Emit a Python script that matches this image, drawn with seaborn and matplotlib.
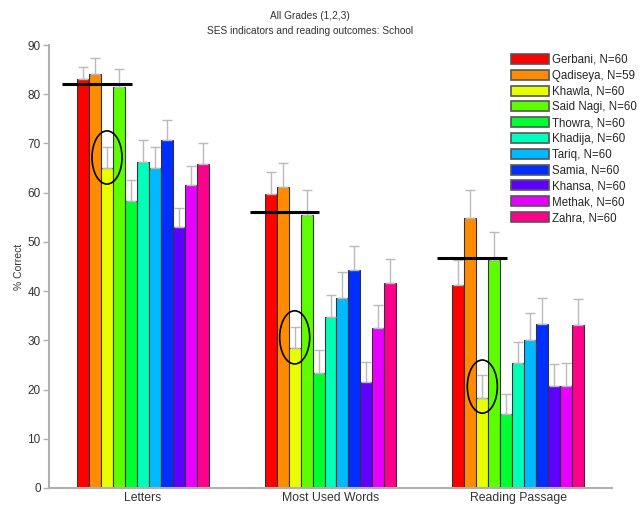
import numpy as np
import pandas as pd
import matplotlib
matplotlib.use("Agg")
import matplotlib.pyplot as plt
from matplotlib.patches import Ellipse
import seaborn as sns

# Outcome measures (x categories)
measures = ["Letters", "Most Used Words", "Reading Passage"]

# Schools and sample sizes
schools = ["Gerbani", "Qadiseya", "Khawla", "Said Nagi", "Thowra", "Khadija",
           "Tariq", "Samia", "Khansa", "Methak", "Zahra"]
sizes = [60, 59, 60, 60, 60, 60, 60, 60, 60, 60, 60]

# Mean % correct per school, one list per measure
letters_mean = [83.0, 84.1, 65.1, 81.5, 58.3, 66.3, 65.0, 70.6, 53.0, 61.5, 65.8]
words_mean = [59.8, 61.1, 28.4, 55.5, 23.4, 34.7, 38.7, 44.2, 21.5, 32.6, 41.6]
passage_mean = [41.2, 54.9, 18.3, 46.4, 15.0, 25.4, 30.1, 33.4, 20.7, 20.7, 33.1]

# Standard error (upper whisker length)
letters_err = [2.6, 3.3, 4.1, 3.6, 4.2, 4.4, 4.3, 4.1, 3.9, 4.0, 4.2]
words_err = [4.4, 4.9, 4.4, 5.0, 4.7, 4.5, 5.2, 5.0, 4.0, 4.6, 4.9]
passage_err = [5.1, 5.6, 4.6, 5.7, 4.0, 4.3, 5.4, 5.3, 4.4, 4.6, 5.2]

# Reference level marked per measure
reference_level = [82.0, 56.0, 46.7]

# Highlighted school (ellipse around its bar top)
highlight = "Khawla"

colors = ["#ff0000", "#ff8b00", "#e8ff00", "#5dff00", "#00ff2e", "#00ffb9",
          "#00b9ff", "#002eff", "#5d00ff", "#e800ff", "#ff008b"]

labels = [f"{s}, N={n}" for s, n in zip(schools, sizes)]
means = [letters_mean, words_mean, passage_mean]
errs = [letters_err, words_err, passage_err]

rows = []
for m, mv, ev in zip(measures, means, errs):
    for lab, v, e in zip(labels, mv, ev):
        rows.append({"measure": m, "school": lab, "value": v, "err": e})
df = pd.DataFrame(rows)

sns.set_style("white")
plt.rcParams["font.family"] = ["Liberation Sans", "DejaVu Sans"]

fig = plt.figure(figsize=(6.43, 5.07), dpi=100)
ax = fig.add_axes([49 / 643, 1 - 488 / 507, (612 - 49) / 643, (488 - 45) / 507])

sns.barplot(data=df, x="measure", y="value", hue="school", order=measures,
            hue_order=labels, palette=colors, width=0.7, errorbar=None,
            edgecolor="#333333", linewidth=0.8, saturation=1.0, ax=ax)

# Upper error whiskers placed at each drawn bar
for container, lab in zip(ax.containers, labels):
    sub = df[df["school"] == lab].set_index("measure").loc[measures]
    xs = [p.get_x() + p.get_width() / 2 for p in container.patches]
    ax.errorbar(xs, sub["value"], yerr=[np.zeros(len(xs)), sub["err"]],
                fmt="none", ecolor="#bababa", elinewidth=1.0, capsize=3.5,
                capthick=1.0, zorder=3)

# Reference level lines and highlight ellipses
hl_idx = labels.index(f"{highlight}, N={sizes[schools.index(highlight)]}")
hl_container = ax.containers[hl_idx]
for i, (lvl, p) in enumerate(zip(reference_level, hl_container.patches)):
    ax.hlines(lvl, i - 0.43, i - 0.06, color="black", linewidth=2.2, zorder=4)
    v = means[i][hl_idx]
    e = errs[i][hl_idx]
    xc = p.get_x() + p.get_width() / 2
    ax.add_patch(Ellipse((xc, v + e / 2), width=0.16, height=10.8,
                         fill=False, edgecolor="black", linewidth=1.2, zorder=5))

ax.set_xlim(-0.5, 2.5)
ax.set_ylim(0, 90)
ax.set_yticks(np.arange(0, 91, 10))
ax.set_xlabel("")
ax.set_ylabel("% Correct", fontsize=7.5, color="#333333")
ax.yaxis.set_label_coords(-0.045, 0.5)

for side in ["top", "right"]:
    ax.spines[side].set_visible(False)
for side in ["left", "bottom"]:
    ax.spines[side].set_color("#b0b0b0")
    ax.spines[side].set_linewidth(1.5)

ax.tick_params(axis="y", direction="out", length=4, width=1, color="#b0b0b0",
               labelsize=8.5, labelcolor="#333333", pad=2, left=True)
ax.tick_params(axis="x", length=0, labelsize=8.8, labelcolor="#333333", pad=3)

handles, labs = ax.get_legend_handles_labels()
for h in handles:
    h.set_edgecolor("#555555")
    h.set_linewidth(1.2)
ax.legend(handles, labs, loc="upper left", bbox_to_anchor=(511 / 643, 1 - 54 / 507),
          bbox_transform=fig.transFigure, frameon=False, fontsize=8.3,
          handlelength=3.3, handleheight=0.95, labelspacing=0.33,
          handletextpad=0.3, borderaxespad=0, borderpad=0)

fig.text(310 / 643, 1 - 16 / 507, "All Grades (1,2,3)", ha="center", va="center",
         fontsize=7.3, color="#333333")
fig.text(310 / 643, 1 - 31 / 507, "SES indicators and reading outcomes: School",
         ha="center", va="center", fontsize=7.3, color="#333333")

fig.savefig("out.png", dpi=100)
